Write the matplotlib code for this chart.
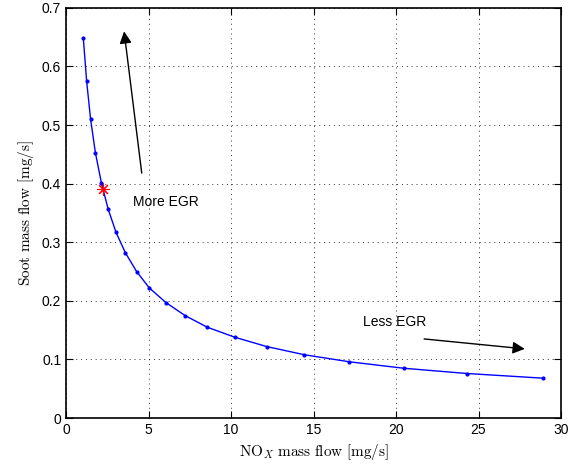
import matplotlib
matplotlib.use("Agg")
import matplotlib.pyplot as plt

# Pareto front: NOx vs soot mass flow
nox = [1.05, 1.25, 1.49, 1.78, 2.14, 2.55, 3.03, 3.60, 4.28, 5.05, 6.06,
       7.21, 8.56, 10.22, 12.16, 14.45, 17.17, 20.46, 24.30, 28.93]
soot = [0.648, 0.575, 0.510, 0.453, 0.402, 0.357, 0.317, 0.282, 0.250,
        0.222, 0.197, 0.175, 0.155, 0.138, 0.122, 0.108, 0.096, 0.085,
        0.076, 0.068]
# operating point
op_nox = [2.22]
op_soot = [0.391]

xticks = [0, 5, 10, 15, 20, 25, 30]
yticks = [0, 0.1, 0.2, 0.3, 0.4, 0.5, 0.6, 0.7]

plt.rcParams["font.family"] = ["Liberation Sans", "DejaVu Sans"]
plt.rcParams["mathtext.fontset"] = "cm"

fig = plt.figure(figsize=(5.79, 4.65), dpi=100)
ax = fig.add_axes([0.114, 0.101, 0.855, 0.882])

ax.plot(nox, soot, "-", color="#0000ff", lw=1.0, marker=".", ms=4)
# MATLAB-style asterisk (+ and x combined)
ax.plot(op_nox, op_soot, marker=(8, 2, 0), ls="none", color="#ff0000",
        ms=9, mew=0.8)

ax.annotate("", xy=(3.52, 0.66), xytext=(4.59, 0.418),
            arrowprops=dict(arrowstyle="-|>", color="k", lw=1.0,
                            mutation_scale=18, shrinkA=0, shrinkB=0))
ax.annotate("", xy=(27.8, 0.118), xytext=(21.7, 0.135),
            arrowprops=dict(arrowstyle="-|>", color="k", lw=1.0,
                            mutation_scale=18, shrinkA=0, shrinkB=0))
ax.text(4.05, 0.369, "More EGR", fontsize=10, va="center", ha="left")
ax.text(18.0, 0.164, "Less EGR", fontsize=10, va="center", ha="left")

ax.set_xlim(0, 30)
ax.set_ylim(0, 0.7)
ax.set_xticks(xticks)
ax.set_yticks(yticks)
ax.set_xticklabels([str(t) for t in xticks])
ax.set_yticklabels([f"{t:g}" for t in yticks])
ax.tick_params(direction="in", top=True, right=True, labelsize=10,
               length=5, width=0.8)
ax.grid(True, linestyle=(0, (1, 4)), color="k", lw=0.7, alpha=0.8)
for sp in ax.spines.values():
    sp.set_linewidth(1.2)

ax.set_xlabel(r"$\mathrm{NO}_X\ \mathrm{mass\ flow\ [mg/s]}$", fontsize=11)
ax.set_ylabel(r"$\mathrm{Soot\ mass\ flow\ [mg/s]}$", fontsize=11)

fig.savefig("out.png", dpi=100)
